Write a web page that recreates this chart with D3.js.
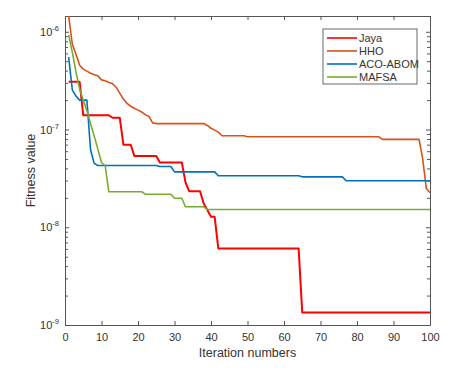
<!DOCTYPE html>
<html>
<head>
<meta charset="utf-8">
<script src="https://cdn.jsdelivr.net/npm/d3@7"></script>
<style>
  body { margin: 0; background: #fff; }
  text { font-family: "Liberation Sans", Arial, sans-serif; fill: #333; }
</style>
</head>
<body>
<svg id="chart" width="475" height="376"></svg>
<script>
const iterations = d3.range(1, 101);

const jaya = [
  3.08e-7, 3.08e-7, 3.08e-7, 3.08e-7,
  1.40e-7, 1.40e-7, 1.40e-7, 1.40e-7, 1.40e-7, 1.40e-7, 1.40e-7, 1.40e-7,
  1.32e-7, 1.32e-7, 1.32e-7,
  7.0e-8, 7.0e-8, 7.0e-8,
  5.35e-8, 5.35e-8, 5.35e-8, 5.35e-8, 5.35e-8, 5.35e-8, 5.35e-8,
  4.61e-8, 4.61e-8, 4.61e-8, 4.61e-8, 4.61e-8, 4.61e-8, 4.61e-8,
  2.9e-8,
  2.34e-8, 2.34e-8, 2.34e-8, 2.34e-8,
  1.75e-8, 1.5e-8, 1.28e-8, 1.28e-8,
  6.08e-9, 6.08e-9, 6.08e-9, 6.08e-9, 6.08e-9, 6.08e-9, 6.08e-9, 6.08e-9,
  6.08e-9, 6.08e-9, 6.08e-9, 6.08e-9, 6.08e-9, 6.08e-9, 6.08e-9, 6.08e-9,
  6.08e-9, 6.08e-9, 6.08e-9, 6.08e-9, 6.08e-9, 6.08e-9, 6.08e-9,
  1.34e-9, 1.34e-9, 1.34e-9, 1.34e-9, 1.34e-9, 1.34e-9, 1.34e-9, 1.34e-9, 1.34e-9,
  1.34e-9, 1.34e-9, 1.34e-9, 1.34e-9, 1.34e-9, 1.34e-9, 1.34e-9, 1.34e-9, 1.34e-9,
  1.34e-9, 1.34e-9, 1.34e-9, 1.34e-9, 1.34e-9, 1.34e-9, 1.34e-9, 1.34e-9, 1.34e-9,
  1.34e-9, 1.34e-9, 1.34e-9, 1.34e-9, 1.34e-9, 1.34e-9, 1.34e-9, 1.34e-9, 1.34e-9
];

const hho = [
  1.45e-6, 7.5e-7, 5.9e-7, 4.55e-7, 4.15e-7, 3.96e-7, 3.77e-7, 3.64e-7, 3.54e-7, 3.22e-7,
  3.15e-7, 3.03e-7, 2.95e-7, 2.71e-7, 2.36e-7, 2.05e-7, 1.85e-7, 1.73e-7, 1.65e-7, 1.58e-7,
  1.51e-7, 1.42e-7, 1.36e-7, 1.17e-7,
  1.15e-7, 1.15e-7, 1.15e-7, 1.15e-7, 1.15e-7, 1.15e-7, 1.15e-7,
  1.15e-7, 1.15e-7, 1.15e-7, 1.15e-7, 1.15e-7, 1.15e-7, 1.15e-7,
  1.10e-7, 1.03e-7, 9.86e-8, 9.4e-8,
  8.63e-8, 8.63e-8, 8.63e-8, 8.63e-8, 8.63e-8, 8.63e-8, 8.63e-8,
  8.42e-8, 8.42e-8, 8.42e-8, 8.42e-8, 8.42e-8, 8.42e-8, 8.42e-8, 8.42e-8, 8.42e-8, 8.42e-8,
  8.42e-8, 8.42e-8, 8.42e-8, 8.42e-8, 8.42e-8, 8.42e-8, 8.42e-8, 8.42e-8, 8.42e-8, 8.42e-8,
  8.42e-8, 8.42e-8, 8.42e-8, 8.42e-8, 8.42e-8, 8.42e-8, 8.42e-8, 8.42e-8, 8.42e-8, 8.42e-8,
  8.42e-8, 8.42e-8, 8.42e-8, 8.42e-8, 8.42e-8, 8.42e-8, 8.42e-8,
  7.92e-8, 7.92e-8, 7.92e-8, 7.92e-8, 7.92e-8, 7.92e-8, 7.92e-8, 7.92e-8, 7.92e-8, 7.92e-8, 7.92e-8,
  5.0e-8, 2.49e-8, 2.25e-8
];

const acoAbom = [
  5.5e-7, 2.55e-7, 2.2e-7, 2.0e-7, 2.0e-7, 2.0e-7, 6.2e-8, 4.5e-8,
  4.28e-8, 4.28e-8, 4.28e-8, 4.28e-8, 4.28e-8, 4.28e-8, 4.28e-8, 4.28e-8, 4.28e-8,
  4.28e-8, 4.28e-8, 4.28e-8, 4.28e-8, 4.28e-8, 4.28e-8, 4.28e-8, 4.28e-8,
  4.18e-8, 4.18e-8, 4.18e-8, 4.18e-8,
  3.69e-8, 3.69e-8, 3.69e-8, 3.69e-8, 3.69e-8, 3.69e-8,
  3.69e-8, 3.69e-8, 3.69e-8, 3.69e-8, 3.69e-8, 3.69e-8,
  3.36e-8, 3.36e-8, 3.36e-8, 3.36e-8, 3.36e-8, 3.36e-8, 3.36e-8, 3.36e-8,
  3.36e-8, 3.36e-8, 3.36e-8, 3.36e-8, 3.36e-8, 3.36e-8, 3.36e-8, 3.36e-8,
  3.36e-8, 3.36e-8, 3.36e-8, 3.36e-8, 3.36e-8, 3.36e-8, 3.36e-8,
  3.28e-8, 3.28e-8, 3.28e-8, 3.28e-8, 3.28e-8, 3.28e-8,
  3.28e-8, 3.28e-8, 3.28e-8, 3.28e-8, 3.28e-8, 3.28e-8,
  2.99e-8, 2.99e-8, 2.99e-8, 2.99e-8, 2.99e-8, 2.99e-8, 2.99e-8, 2.99e-8,
  2.99e-8, 2.99e-8, 2.99e-8, 2.99e-8, 2.99e-8, 2.99e-8, 2.99e-8, 2.99e-8,
  2.99e-8, 2.99e-8, 2.99e-8, 2.99e-8, 2.99e-8, 2.99e-8, 2.99e-8, 2.99e-8
];

const mafsa = [
  9.3e-7, 6.2e-7, 3.9e-7, 2.6e-7, 2.0e-7, 1.56e-7, 1.15e-7, 8.6e-8, 6.3e-8, 4.6e-8, 4.26e-8,
  2.31e-8, 2.31e-8, 2.31e-8, 2.31e-8, 2.31e-8, 2.31e-8, 2.31e-8, 2.31e-8, 2.31e-8, 2.31e-8,
  2.18e-8, 2.18e-8, 2.18e-8, 2.18e-8, 2.18e-8, 2.18e-8, 2.18e-8, 2.18e-8,
  1.98e-8, 1.98e-8, 1.98e-8,
  1.62e-8, 1.62e-8, 1.62e-8, 1.62e-8, 1.62e-8, 1.62e-8,
  1.52e-8, 1.52e-8, 1.52e-8, 1.52e-8, 1.52e-8, 1.52e-8, 1.52e-8, 1.52e-8, 1.52e-8, 1.52e-8,
  1.52e-8, 1.52e-8, 1.52e-8, 1.52e-8, 1.52e-8, 1.52e-8, 1.52e-8, 1.52e-8, 1.52e-8, 1.52e-8,
  1.52e-8, 1.52e-8, 1.52e-8, 1.52e-8, 1.52e-8, 1.52e-8, 1.52e-8, 1.52e-8, 1.52e-8, 1.52e-8,
  1.52e-8, 1.52e-8, 1.52e-8, 1.52e-8, 1.52e-8, 1.52e-8, 1.52e-8, 1.52e-8, 1.52e-8, 1.52e-8,
  1.52e-8, 1.52e-8, 1.52e-8, 1.52e-8, 1.52e-8, 1.52e-8, 1.52e-8, 1.52e-8, 1.52e-8, 1.52e-8,
  1.52e-8, 1.52e-8, 1.52e-8, 1.52e-8, 1.52e-8, 1.52e-8, 1.52e-8, 1.52e-8, 1.52e-8, 1.52e-8,
  1.52e-8, 1.52e-8
];

const seriesNames = ['Jaya', 'HHO', 'ACO-ABOM', 'MAFSA'];
const seriesColors = ['#ff0000', '#d95319', '#0072bd', '#77ac30'];
const xTicks = [0, 10, 20, 30, 40, 50, 60, 70, 80, 90, 100];
const yDecades = [-9, -8, -7, -6];

const margin = { top: 16, right: 45, bottom: 51, left: 65 };
const width = 475, height = 376;

const svg = d3.select('#chart');

let x = d3.scaleLinear().domain([0, 100]).range([margin.left, width - margin.right]);
let y = d3.scaleLog().domain([1e-9, 1.45e-6]).range([height - margin.bottom, margin.top]);

const x0 = x.range()[0], x1 = x.range()[1];
const y0 = y.range()[0], y1 = y.range()[1];

svg.append('defs').append('clipPath').attr('id', 'clip')
  .append('rect').attr('x', x0).attr('y', y1).attr('width', x1 - x0).attr('height', y0 - y1);

// minor ticks for the log axis
let minorTicks = [];
yDecades.forEach((d) => {
  for (let k = 2; k <= 9; k++) {
    let v = k * Math.pow(10, d);
    if (v <= y.domain()[1]) minorTicks.push(v);
  }
});

const axisColor = '#555';

// bottom axis
let xAxis = svg.append('g')
  .attr('transform', `translate(0,${y0})`)
  .call(d3.axisBottom(x).tickValues(xTicks).tickSizeInner(-4).tickSizeOuter(0).tickPadding(8));
// top axis (ticks only)
let xTop = svg.append('g')
  .attr('transform', `translate(0,${y1})`)
  .call(d3.axisTop(x).tickValues(xTicks).tickSizeInner(-4).tickSizeOuter(0).tickFormat(''));

// left axis
let yAxis = svg.append('g')
  .attr('transform', `translate(${x0},0)`)
  .call(d3.axisLeft(y).tickValues(yDecades.map((d) => Math.pow(10, d))).tickSizeInner(-4).tickSizeOuter(0).tickFormat(''));
let yMinor = svg.append('g')
  .attr('transform', `translate(${x0},0)`)
  .call(d3.axisLeft(y).tickValues(minorTicks).tickSizeInner(-3).tickSizeOuter(0).tickFormat(''));
// right axis
let yRight = svg.append('g')
  .attr('transform', `translate(${x1},0)`)
  .call(d3.axisRight(y).tickValues(yDecades.map((d) => Math.pow(10, d))).tickSizeInner(-4).tickSizeOuter(0).tickFormat(''));
let yRightMinor = svg.append('g')
  .attr('transform', `translate(${x1},0)`)
  .call(d3.axisRight(y).tickValues(minorTicks).tickSizeInner(-3).tickSizeOuter(0).tickFormat(''));

[xAxis, xTop, yAxis, yMinor, yRight, yRightMinor].forEach((g) => {
  g.select('.domain').attr('stroke', axisColor);
  g.selectAll('.tick line').attr('stroke', axisColor);
});
xAxis.selectAll('.tick text').style('font-size', '11px').style('fill', '#333');

// y tick labels as 10^n
yDecades.forEach((d) => {
  let t = svg.append('text')
    .attr('x', x0 - 6)
    .attr('y', y(Math.pow(10, d)) + 4)
    .attr('text-anchor', 'end')
    .style('font-size', '11px');
  t.append('tspan').text('10');
  t.append('tspan').attr('dy', -5).style('font-size', '7.5px').text(String(d));
});

// lines
const allSeries = [jaya, hho, acoAbom, mafsa];
let line = d3.line().x((d, i) => x(iterations[i])).y((d) => y(d));

let plot = svg.append('g').attr('clip-path', 'url(#clip)');
allSeries.forEach((s, idx) => {
  plot.append('path')
    .attr('d', line(s))
    .attr('fill', 'none')
    .attr('stroke', seriesColors[idx])
    .attr('stroke-width', idx === 0 ? 2 : 1.6)
    .attr('stroke-linejoin', 'round');
});

// axis labels
svg.append('text')
  .attr('x', (x0 + x1) / 2)
  .attr('y', 357)
  .attr('text-anchor', 'middle')
  .style('font-size', '12.5px')
  .text('Iteration numbers');

svg.append('text')
  .attr('transform', `translate(35,${(y0 + y1) / 2}) rotate(-90)`)
  .attr('text-anchor', 'middle')
  .style('font-size', '12.5px')
  .text('Fitness value');

// legend
let legend = svg.append('g').attr('transform', 'translate(323,29)');
legend.append('rect')
  .attr('width', 94).attr('height', 55)
  .attr('fill', '#fff').attr('stroke', '#444').attr('stroke-width', 0.8);
seriesNames.forEach((name, idx) => {
  let row = legend.append('g').attr('transform', `translate(0,${9 + idx * 13})`);
  row.append('line')
    .attr('x1', 4).attr('x2', 34)
    .attr('stroke', seriesColors[idx]).attr('stroke-width', 1.6);
  row.append('text')
    .attr('x', 36).attr('y', 4)
    .style('font-size', '11px')
    .text(name);
});
</script>
</body>
</html>
